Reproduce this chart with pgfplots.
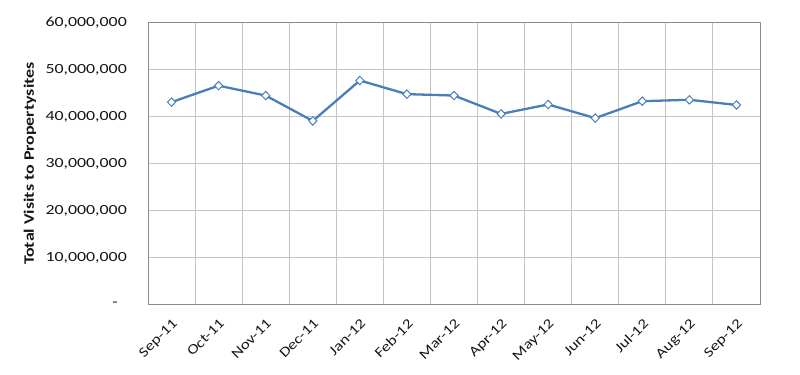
\documentclass[border=0pt]{standalone}
\usepackage{fontspec}
\setmainfont{Carlito}
\newfontfamily\ytfont{Carlito}[FakeStretch=1.28]
\newfontfamily\xtfont{Carlito}[FakeStretch=1.22]
\newfontfamily\ylfont{Carlito}[FakeStretch=1.24]
\usepackage{pgfplots}
\pgfplotsset{compat=1.18}
\definecolor{lineblue}{HTML}{4A7EBB}
\definecolor{gridgray}{HTML}{C4C4C4}
\definecolor{axgray}{HTML}{8C8C8C}
\definecolor{txt}{HTML}{161616}
\begin{document}
\begin{tikzpicture}
\useasboundingbox (0,0) rectangle (800bp,375bp);
\begin{axis}[
  at={(148bp,70.3bp)}, anchor=south west,
  scale only axis, width=612bp, height=282bp,
  xmin=-0.5, xmax=12.5, ymin=0, ymax=60000000,
  scaled y ticks=false,
  xtick={0,...,12},
  xticklabels={Sep-11,Oct-11,Nov-11,Dec-11,Jan-12,Feb-12,Mar-12,Apr-12,May-12,Jun-12,Jul-12,Aug-12,Sep-12},
  minor xtick={0.5,1.5,...,11.5},
  xminorgrids,
  ytick={0,10000000,20000000,30000000,40000000,50000000,60000000},
  yticklabels={{-\hspace*{9bp}},{10,000,000},{20,000,000},{30,000,000},{40,000,000},{50,000,000},{60,000,000}},
  ymajorgrids,
  grid style={gridgray, line width=0.9bp},
  minor grid style={gridgray, line width=0.9bp},
  axis line style={axgray, line width=0.9bp},
  major tick length=0pt, minor tick length=0pt,
  yticklabel style={font=\ytfont\fontsize{14}{15}\selectfont, text=txt, anchor=east, inner sep=0pt, xshift=-21bp},
  xticklabel shift=13bp,
  xticklabel style={font=\xtfont\fontsize{14}{15}\selectfont, text=txt, rotate=45, anchor=north east, inner sep=0pt},
  ylabel={\textbf{Total Visits to Propertysites}},
  every axis y label/.style={at={(axis description cs:-0.193,0.5)}, rotate=90, anchor=center, font=\ylfont\fontsize{14.5}{15}\selectfont, text=txt},
  clip=false,
]
\addplot[lineblue, line width=2.3bp, mark=diamond*, mark size=4.2bp, mark options={fill=white, draw=lineblue, line width=1bp, xscale=1.3}]
coordinates {
(0,43100000) (1,46600000) (2,44500000) (3,39100000) (4,47700000) (5,44800000) (6,44500000)
(7,40600000) (8,42600000) (9,39700000) (10,43300000) (11,43600000) (12,42500000)
};
\end{axis}
\end{tikzpicture}
\end{document}
